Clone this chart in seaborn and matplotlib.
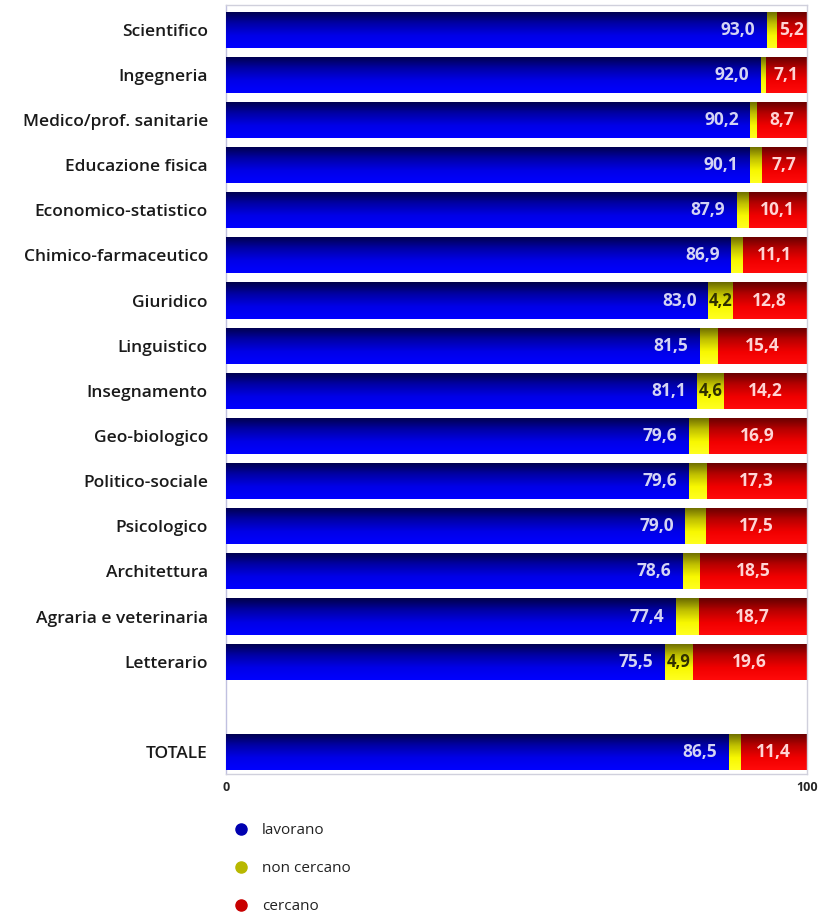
import numpy as np
import pandas as pd
import matplotlib
matplotlib.use('Agg')
import matplotlib.pyplot as plt
import seaborn as sns
from matplotlib.colors import LinearSegmentedColormap
from matplotlib.lines import Line2D

# %% data
categories = ['Scientifico', 'Ingegneria', 'Medico/prof. sanitarie', 'Educazione fisica',
              'Economico-statistico', 'Chimico-farmaceutico', 'Giuridico', 'Linguistico',
              'Insegnamento', 'Geo-biologico', 'Politico-sociale', 'Psicologico',
              'Architettura', 'Agraria e veterinaria', 'Letterario', 'TOTALE']
lavorano = [93.0, 92.0, 90.2, 90.1, 87.9, 86.9, 83.0, 81.5, 81.1, 79.6, 79.6, 79.0, 78.6, 77.4, 75.5, 86.5]
non_cercano = [1.8, 0.9, 1.1, 2.2, 2.0, 2.0, 4.2, 3.1, 4.6, 3.5, 3.1, 3.5, 2.9, 3.9, 4.9, 2.1]
cercano = [5.2, 7.1, 8.7, 7.7, 10.1, 11.1, 12.8, 15.4, 14.2, 16.9, 17.3, 17.5, 18.5, 18.7, 19.6, 11.4]
series = ['lavorano', 'non cercano', 'cercano']

order = categories[:-1] + [' '] + ['TOTALE']

df = pd.DataFrame({'corso': categories, 'lavorano': lavorano,
                   'non_cercano': non_cercano, 'cercano': cercano})
df['cum2'] = df['lavorano'] + df['non_cercano']
df['cum3'] = df['cum2'] + df['cercano']

# %% style
sns.set_theme(style='white')
plt.rcParams['font.family'] = ['Open Sans', 'DejaVu Sans']

fig = plt.figure(figsize=(8.19, 9.13), dpi=100)
ax = fig.add_axes([0.276, 0.1517, 0.709, 0.843])

cmaps = {
    'cum3': LinearSegmentedColormap.from_list('r', ['#640000', '#b80000', '#f00000', '#ff0a0a']),
    'cum2': LinearSegmentedColormap.from_list('y', ['#6a6a00', '#c0c000', '#f8f800', '#ffff20']),
    'lavorano': LinearSegmentedColormap.from_list('b', ['#00004a', '#0000a8', '#0000e8', '#0000ff']),
}
grad = np.linspace(0, 1, 64).reshape(-1, 1)

for z, col in enumerate(['cum3', 'cum2', 'lavorano']):
    before = len(ax.patches)
    sns.barplot(data=df, x=col, y='corso', order=order, orient='h', width=0.8,
                errorbar=None, color='grey', ax=ax)
    for p in ax.patches[before:]:
        if np.isnan(p.get_width()):
            continue
        x, y, w, h = p.get_x(), p.get_y(), p.get_width(), p.get_height()
        p.set_facecolor('none')
        p.set_edgecolor('none')
        im = ax.imshow(grad, cmap=cmaps[col], extent=[x, x + w, y + h, y], origin='upper',
                       aspect='auto', zorder=z + 1, interpolation='bilinear')
        im.set_clip_path(p)

ax.set_xlim(0, 100)
ax.set_ylim(16.5, -0.55)

# %% value labels
fmt = lambda v: f"{v:.1f}".replace('.', ',')
for i, row in df.iterrows():
    y = order.index(row['corso'])
    ax.text(row['lavorano'] - 1.9, y, fmt(row['lavorano']), ha='right', va='center',
            color='#d4d4f4', weight='bold', fontsize=12.5, zorder=5)
    ax.text(row['cum2'] + row['cercano'] / 2, y, fmt(row['cercano']), ha='center', va='center',
            color='#ffd4d4', weight='bold', fontsize=12.5, zorder=5)
    if row['non_cercano'] >= 4:
        ax.text(row['lavorano'] + row['non_cercano'] / 2, y, fmt(row['non_cercano']),
                ha='center', va='center', color='#303000', weight='bold', fontsize=12, zorder=5)

# %% axes
ax.set_xlabel('')
ax.set_ylabel('')
ax.set_xticks([0, 100])
ax.set_xticklabels(['0', '100'], fontsize=9, weight='bold')
ax.tick_params(length=0, axis='x', pad=5)
ax.tick_params(length=0, axis='y', labelsize=12.5, pad=13)
for lbl in ax.get_yticklabels():
    lbl.set_fontweight(600)
    lbl.set_color('#1a1a1a')
for s in ax.spines.values():
    s.set_color('#d0d0dc')
    s.set_linewidth(1)
ax.spines['left'].set_color('#c0c0e0')

handles = [Line2D([], [], marker='o', ls='', markersize=8, color=c)
           for c in ['#0000b0', '#b8b800', '#c80000']]
leg = fig.legend(handles, series, loc='upper left', bbox_to_anchor=(0.259, 0.1135), frameon=False,
                 fontsize=11, labelspacing=1.5, handletextpad=0.35)
for t in leg.get_texts():
    t.set_color('#222222')

plt.savefig('out.png', dpi=100)
